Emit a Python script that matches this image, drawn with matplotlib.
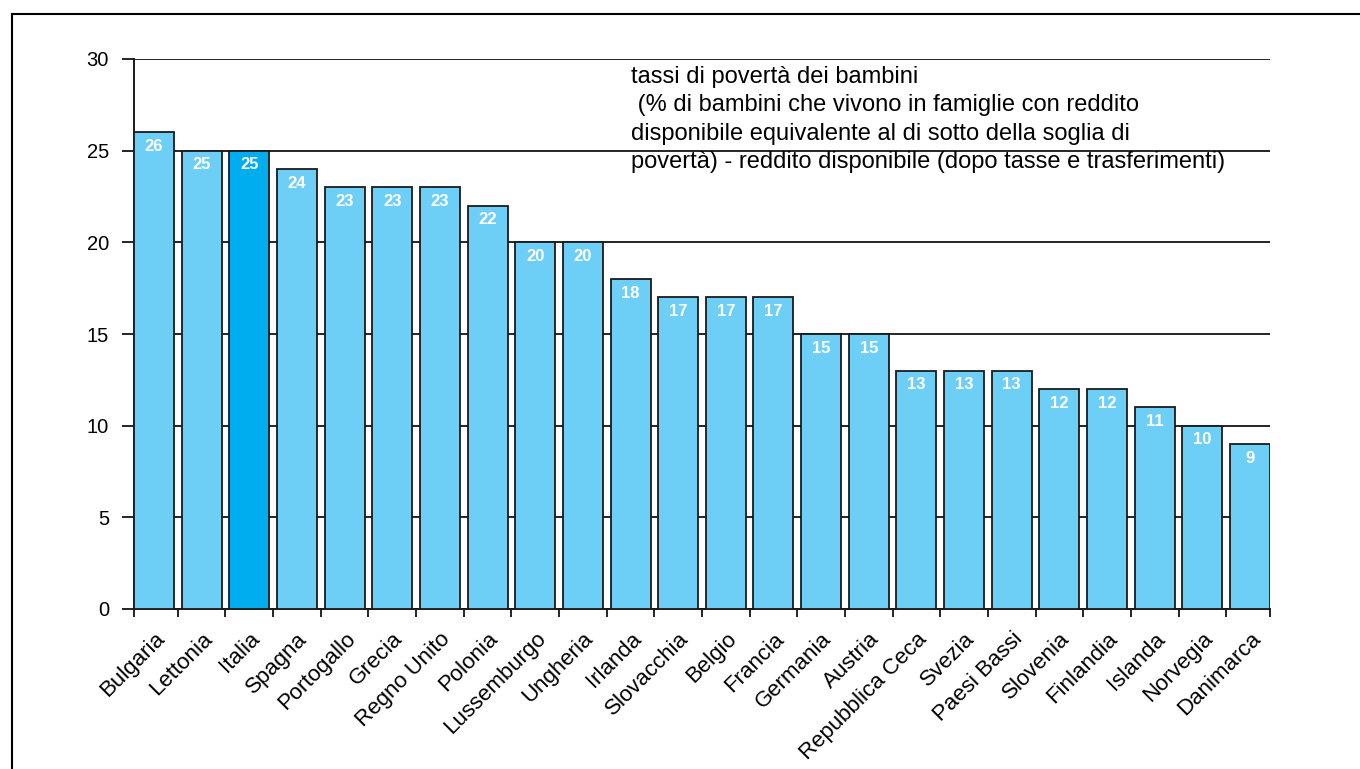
import matplotlib

matplotlib.use("Agg")
import matplotlib.pyplot as plt
import matplotlib.transforms as mtransforms
from matplotlib.lines import Line2D
import numpy as np

plt.rcParams["font.family"] = ["Liberation Sans", "DejaVu Sans"]

countries = ["Bulgaria", "Lettonia", "Italia", "Spagna", "Portogallo", "Grecia",
             "Regno Unito", "Polonia", "Lussemburgo", "Ungheria", "Irlanda",
             "Slovacchia", "Belgio", "Francia", "Germania", "Austria",
             "Repubblica Ceca", "Svezia", "Paesi Bassi", "Slovenia", "Finlandia",
             "Islanda", "Norvegia", "Danimarca"]
rates = [26, 25, 25, 24, 23, 23, 23, 22, 20, 20, 18, 17, 17, 17, 15, 15,
         13, 13, 13, 12, 12, 11, 10, 9]
highlight = "Italia"
title = ("tassi di povertà dei bambini\n"
         " (% di bambini che vivono in famiglie con reddito\n"
         "disponibile equivalente al di sotto della soglia di\n"
         "povertà) - reddito disponibile (dopo tasse e trasferimenti)")

LIGHT = "#6dcff6"
DARK = "#00aeef"

W, H = 1360, 769
fig = plt.figure(figsize=(W / 100, H / 100), dpi=100)
ax = fig.add_axes([134 / W, 1 - 609 / H, 1136 / W, 550 / H])

x = np.arange(len(countries))
colors = [DARK if c == highlight else LIGHT for c in countries]
bw = 0.84
ax.bar(x, rates, bw, color=colors, edgecolor="#1a1a1a", linewidth=1.3, zorder=3)
for xi, v in zip(x, rates):
    ax.text(xi, v - 0.78, f"{v}", ha="center", va="center", color="white",
            fontsize=12, fontweight="bold", zorder=4)

ax.set_xlim(-bw / 2, len(countries) - 1 + bw / 2)
ax.set_ylim(0, 30)
ax.set_yticks(np.arange(0, 31, 5))
ax.yaxis.grid(True, color="black", linewidth=1.2, zorder=0)
ax.set_axisbelow(True)

edges = [-bw / 2] + list(x[:-1] + 0.5) + [len(countries) - 1 + bw / 2]
ax.set_xticks(edges)
ax.set_xticklabels([])
ax.set_xticks(x, minor=True)
ax.set_xticklabels(countries, minor=True, rotation=45, ha="right",
                   rotation_mode="anchor", fontsize=16)
shift = mtransforms.ScaledTranslation(-11 / 100, 0, fig.dpi_scale_trans)
for lab in ax.get_xticklabels(minor=True):
    lab.set_transform(lab.get_transform() + shift)
ax.tick_params(axis="x", which="minor", length=0, pad=14)
ax.tick_params(axis="x", which="major", length=6, width=1.2, direction="out")
ax.tick_params(axis="y", length=9, width=1.2, labelsize=14.5, pad=9)

for s in ["top", "right"]:
    ax.spines[s].set_visible(False)
for s in ["left", "bottom"]:
    ax.spines[s].set_linewidth(1.4)
    ax.spines[s].set_color("#1a1a1a")

ax.text(631 / W, 1 - 66 / H, title, transform=fig.transFigure, ha="left",
        va="top", fontsize=17, linespacing=1.38, zorder=5)

# outer frame
fig.add_artist(Line2D([12 / W, 12 / W], [0, 1 - 14 / H], color="black", lw=1.5))
fig.add_artist(Line2D([12 / W, 1], [1 - 14 / H, 1 - 14 / H], color="black", lw=1.5))

fig.savefig("out.png", dpi=100)
